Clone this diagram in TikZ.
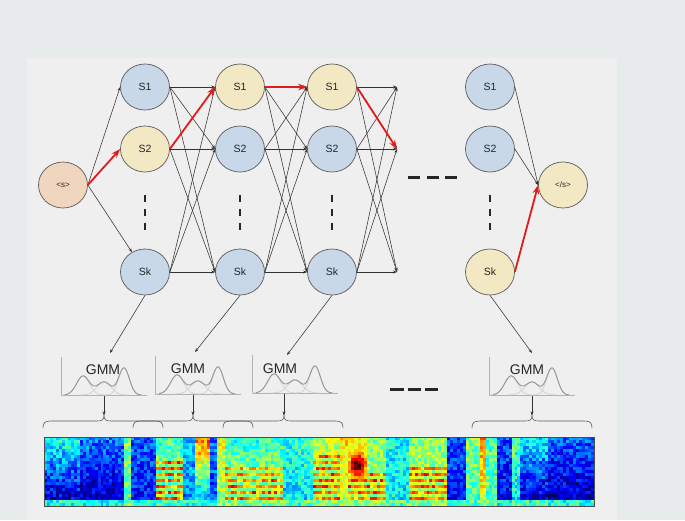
\documentclass[tikz,border=0pt]{standalone}
\usepackage{fontspec}
\setmainfont{Liberation Sans}
\usetikzlibrary{shapes.geometric,arrows.meta}

\definecolor{bgout}{HTML}{E8EBEC}
\definecolor{bgin}{HTML}{EFEFEF}
\definecolor{stblue}{HTML}{C8D8E9}
\definecolor{styel}{HTML}{F3E8C4}
\definecolor{stpeach}{HTML}{F0D6BE}
\definecolor{stline}{HTML}{5A5A5A}
\definecolor{pathred}{HTML}{E01B1B}
\definecolor{edgegray}{HTML}{333333}

\tikzset{
  hmmstate/.style={ellipse, draw=stline, line width=0.7pt, minimum width=49pt,
    minimum height=46pt, inner sep=0pt, text=black!85,
    font=\fontsize{10.5}{12}\selectfont},
  bluestate/.style={hmmstate, fill=stblue},
  yelstate/.style={hmmstate, fill=styel},
  trans/.style={draw=edgegray, line width=0.55pt, -{Stealth[length=4pt,width=3pt]}},
  best/.style={draw=pathred, line width=1.8pt, -{Stealth[length=9pt,width=6.5pt]}},
  ellip/.style={line width=2pt, draw=black!85, dash pattern=on 7pt off 7pt},
  hdots/.style={line width=3pt, draw=black!85},
  axisline/.style={draw=black!30, line width=0.7pt},
  gaussline/.style={draw=black!18, line width=0.7pt},
  mixline/.style={draw=black!42, line width=0.9pt},
  gmmlabel/.style={font=\fontsize{14}{16}\selectfont, text=black!85, inner sep=0pt},
  bracepath/.style={draw=black!65, line width=0.6pt},
}

% one vertical band of the spectrogram:
% #1,#2 x range; #3 value at top; #4 value near bottom; #5 harmonic strength;
% #6 first harmonic row; #7 value of the two lowest rows; #8 noise; #9 blob strength
\newcommand\specseg[9]{%
  \pgfmathtruncatemacro\ncol{max(1,round((#2-#1)/3))}%
  \pgfmathsetmacro\cw{(#2-#1)/\ncol}%
  \foreach \ci in {1,...,\ncol}{%
    \foreach \rj in {0,...,22}{%
      \pgfmathsetmacro\dr{(\rj-9)/3.5}%
      \pgfmathsetmacro\dc{(\ci-0.5-\ncol/2)/(\ncol/3+0.5)}%
      \pgfmathsetmacro\vv{ifthenelse(\rj>20,#7,#3+(#4-#3)*\rj/20+#5*(\rj>=#6)*(mod(\rj,2)==0)*(0.8+0.3*rand))+#9*exp(-\dr*\dr)*exp(-\dc*\dc)+#8*rand}%
      \pgfmathsetmacro\cR{max(0,min(1,1.5-abs(4*\vv-3)))}%
      \pgfmathsetmacro\cG{max(0,min(1,1.5-abs(4*\vv-2)))}%
      \pgfmathsetmacro\cB{max(0,min(1,1.5-abs(4*\vv-1)))}%
      \definecolor{cellc}{rgb}{\cR,\cG,\cB}%
      \fill[cellc] ({#1+(\ci-1)*\cw},{437+3*\rj}) rectangle ++({\cw+0.5},3.5);
    }%
  }%
}

% small Gaussian-mixture sketch with its corner at (#1,#2)
\newcommand\gmmsketch[2]{%
  \begin{scope}[shift={(#1,#2)}]
    \draw[axisline] (0,-38) -- (0,0) -- (86,0);
    \draw[gaussline] plot[domain=0:46,samples=40]
      (\x,{-19*exp(-((\x-22)/9)*((\x-22)/9))});
    \draw[gaussline] plot[domain=18:68,samples=40]
      (\x,{-13*exp(-((\x-43)/10)*((\x-43)/10))});
    \draw[gaussline] plot[domain=44:82,samples=40]
      (\x,{-27*exp(-((\x-63)/7.5)*((\x-63)/7.5))});
    \draw[mixline] plot[domain=4:80,samples=90]
      (\x,{-19*exp(-((\x-22)/9)*((\x-22)/9))-13*exp(-((\x-43)/10)*((\x-43)/10))-27*exp(-((\x-63)/7.5)*((\x-63)/7.5))});
  \end{scope}}

% curly brace over a stretch of frames
\newcommand\framebrace[3]{%
  \draw[bracepath] (#1,428) .. controls (#1,422.5) and ({#1+2},421) .. ({#1+8},421)
    -- ({#3-7},421) .. controls ({#3-2},421) and (#3,420) .. (#3,415)
    .. controls (#3,420) and ({#3+2},421) .. ({#3+7},421)
    -- ({#2-8},421) .. controls ({#2-2},421) and (#2,422.5) .. (#2,428);}

\begin{document}
\begin{tikzpicture}[x=1pt,y=-1pt]
\useasboundingbox (0,0) rectangle (685,520);
\fill[bgout] (0,0) rectangle (685,520);
\fill[bgin] (27,58) rectangle (617,520);

% ---------- states ----------
\node[hmmstate, fill=stpeach, font=\fontsize{8}{9}\selectfont] (s0) at (63,185) {<s>};
\node[bluestate] (a1) at (145,87) {S1};
\node[yelstate]  (a2) at (145,149) {S2};
\node[bluestate] (ak) at (145,272) {Sk};
\node[yelstate]  (b1) at (240,87) {S1};
\node[bluestate] (b2) at (240,149) {S2};
\node[bluestate] (bk) at (240,272) {Sk};
\node[yelstate]  (c1) at (332,87) {S1};
\node[bluestate] (c2) at (332,149) {S2};
\node[bluestate] (ck) at (332,272) {Sk};
\coordinate (d1) at (397,87);
\coordinate (d2) at (397,149);
\coordinate (dk) at (397,272);
\node[bluestate] (e1) at (490,87) {S1};
\node[bluestate] (e2) at (490,149) {S2};
\node[yelstate]  (ek) at (490,272) {Sk};
\node[yelstate, font=\fontsize{8}{9}\selectfont] (s9) at (563,185) {</s>};

% ---------- ellipsis marks ----------
\foreach \cx in {145,240,332,490}{
  \draw[ellip] (\cx,195) -- (\cx,230);
}
\draw[hdots] (408,177) -- (420,177);
\draw[hdots] (427,177) -- (439,177);
\draw[hdots] (445,177) -- (457,177);
\draw[hdots] (390,389) -- (404,389);
\draw[hdots] (408,389) -- (421,389);
\draw[hdots] (425,389) -- (438,389);

% ---------- transitions ----------
\draw[trans] (s0.east) -- (a1.west);
\draw[trans] (s0.east) -- (ak);
\foreach \i in {1,2,k}{
  \foreach \j in {1,2,k}{
    \draw[trans] (a\i.east) -- (b\j.west);
    \draw[trans] (b\i.east) -- (c\j.west);
    \draw[trans] (c\i.east) -- (d\j);
  }
}
\draw[trans] (e1.east) -- (s9.west);
\draw[trans] (e2.east) -- (s9.west);

% best path
\draw[best] (s0.east) -- (a2.west);
\draw[best] (a2.east) -- (b1.west);
\draw[best] (b1.east) -- (c1.west);
\draw[best] (c1.east) -- (d2);
\draw[best] (ek.east) -- (s9.west);

% ---------- emission models ----------
\gmmsketch{61}{395}
\gmmsketch{155}{394}
\gmmsketch{252}{393}
\gmmsketch{489}{395}
\node[gmmlabel] (g1) at (103,370) {GMM};
\node[gmmlabel] (g2) at (188,369) {GMM};
\node[gmmlabel] (g3) at (280,369) {GMM};
\node[gmmlabel] (g4) at (527,370) {GMM};

\coordinate (q1) at (110,353);
\coordinate (q2) at (195,352);
\coordinate (q3) at (287,355);
\coordinate (q4) at (532,353);
\draw[trans] (ak.south) -- (q1);
\draw[trans] (bk.south) -- (q2);
\draw[trans] (ck.south) -- (q3);
\draw[trans] (ek.south) -- (q4);

\coordinate (r1) at (104,396);
\coordinate (r2) at (193,395);
\coordinate (r3) at (284,394);
\coordinate (r4) at (532,396);
\coordinate (t1) at (104,415.5);
\coordinate (t2) at (193,415.5);
\coordinate (t3) at (284,415.5);
\coordinate (t4) at (532,415.5);
\foreach \n in {1,2,3,4}{
  \draw[trans] (r\n) -- (t\n);
}

% ---------- frame braces ----------
\framebrace{43}{163}{104}
\framebrace{133}{253}{193}
\framebrace{223}{343}{284}
\framebrace{472}{592}{532}

% ---------- spectrogram ----------
\pgfmathsetseed{11}
\begin{scope}
\clip (44,437) rectangle (594,506);
\specseg{44}{80}{0.40}{0.08}{0}{30}{0.40}{0.11}{0}
\specseg{80}{124}{0.25}{0.06}{0}{30}{0.38}{0.10}{0}
\specseg{124}{131}{0.52}{0.45}{0}{30}{0.50}{0.10}{0}
\specseg{131}{156}{0.22}{0.14}{0}{30}{0.40}{0.10}{0}
\specseg{156}{183}{0.45}{0.50}{0.33}{7}{0.45}{0.10}{0}
\specseg{183}{195}{0.32}{0.24}{0}{30}{0.40}{0.10}{0}
\specseg{195}{210}{0.78}{0.30}{0}{30}{0.40}{0.11}{0}
\specseg{210}{217}{0.25}{0.20}{0}{30}{0.40}{0.10}{0}
\specseg{217}{225}{0.62}{0.50}{0}{30}{0.50}{0.10}{0}
\specseg{225}{283}{0.42}{0.55}{0.28}{10}{0.50}{0.10}{0}
\specseg{283}{313}{0.42}{0.35}{0}{30}{0.45}{0.11}{0}
\specseg{313}{340}{0.55}{0.55}{0.28}{6}{0.50}{0.10}{0}
\specseg{340}{348}{0.66}{0.55}{0}{30}{0.50}{0.10}{0}
\specseg{348}{367}{0.62}{0.55}{0.25}{14}{0.50}{0.08}{0.45}
\specseg{367}{386}{0.50}{0.55}{0.26}{12}{0.50}{0.10}{0}
\specseg{386}{409}{0.38}{0.35}{0}{30}{0.45}{0.11}{0}
\specseg{409}{447}{0.52}{0.55}{0.28}{10}{0.50}{0.10}{0}
\specseg{447}{466}{0.20}{0.14}{0}{30}{0.40}{0.10}{0}
\specseg{466}{480}{0.50}{0.45}{0}{30}{0.45}{0.10}{0}
\specseg{480}{486}{0.76}{0.60}{0}{30}{0.50}{0.08}{0}
\specseg{486}{497}{0.45}{0.45}{0}{30}{0.45}{0.10}{0}
\specseg{497}{512}{0.20}{0.12}{0}{30}{0.40}{0.10}{0}
\specseg{512}{520}{0.45}{0.35}{0}{30}{0.45}{0.11}{0}
\specseg{520}{548}{0.36}{0.08}{0}{30}{0.42}{0.11}{0}
\specseg{548}{594}{0.22}{0.06}{0}{30}{0.40}{0.10}{0}
\end{scope}
\draw[black!70, line width=0.6pt] (44,437) rectangle (594,506);
\end{tikzpicture}
\end{document}
